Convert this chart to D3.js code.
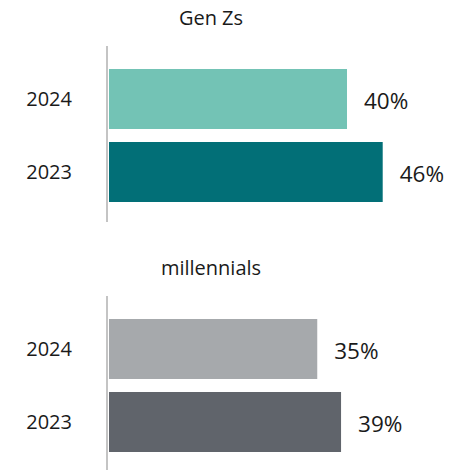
<!DOCTYPE html>
<html>
<head>
<meta charset="utf-8">
<script src="https://cdn.jsdelivr.net/npm/d3@7"></script>
<style>
  html, body { margin: 0; padding: 0; background: #fff; }
  svg { display: block; font-family: "Open Sans", "Noto Sans", sans-serif; }
</style>
</head>
<body>
<svg id="chart" width="464" height="470"></svg>
<script>
const panels = ["Gen Zs", "millennials"];
const years = ["2024", "2023"];
const genZValues = [40, 46];
const millennialValues = [35, 39];
const valueLabels = [["40%", "46%"], ["35%", "39%"]];
const panelColors = [["#73c3b5", "#026f77"], ["#a6a9ac", "#60646b"]];

const seriesByPanel = [genZValues, millennialValues];
const svg = d3.select("#chart");

const x = d3.scaleLinear().domain([0, 50]).range([109, 109 + 297.5]);

panels.forEach((title, pi) => {
  const offset = pi * 250;
  const g = svg.append("g").attr("transform", `translate(0,${offset})`);
  const y = d3.scaleBand().domain(years).range([69, 202]).paddingInner(13 / 73).paddingOuter(0);

  g.append("text")
    .attr("x", 211).attr("y", 18)
    .attr("dy", "0.35em")
    .attr("text-anchor", "middle")
    .attr("font-size", 20)
    .attr("fill", "#1a1a1a")
    .text(title);

  const vals = seriesByPanel[pi];

  g.selectAll("rect.bar").data(years).enter().append("rect")
    .attr("class", "bar")
    .attr("x", x(0))
    .attr("y", d => y(d))
    .attr("width", (d, i) => x(vals[i]) - x(0))
    .attr("height", y.bandwidth())
    .attr("fill", (d, i) => panelColors[pi][i]);

  g.append("line")
    .attr("x1", 107).attr("x2", 107)
    .attr("y1", 46).attr("y2", 222)
    .attr("stroke", "#c4c4c4").attr("stroke-width", 2);

  g.selectAll("text.cat").data(years).enter().append("text")
    .attr("class", "cat")
    .attr("x", 72)
    .attr("y", d => y(d) + y.bandwidth() / 2)
    .attr("dy", "0.35em")
    .attr("text-anchor", "end")
    .attr("font-size", 20)
    .attr("fill", "#1a1a1a")
    .text(d => d);

  g.selectAll("text.val").data(years).enter().append("text")
    .attr("class", "val")
    .attr("x", (d, i) => x(vals[i]) + 17)
    .attr("y", d => y(d) + y.bandwidth() / 2 + 2)
    .attr("dy", "0.35em")
    .attr("font-size", 22.5)
    .attr("fill", "#1a1a1a")
    .text((d, i) => valueLabels[pi][i]);
});
</script>
</body>
</html>
